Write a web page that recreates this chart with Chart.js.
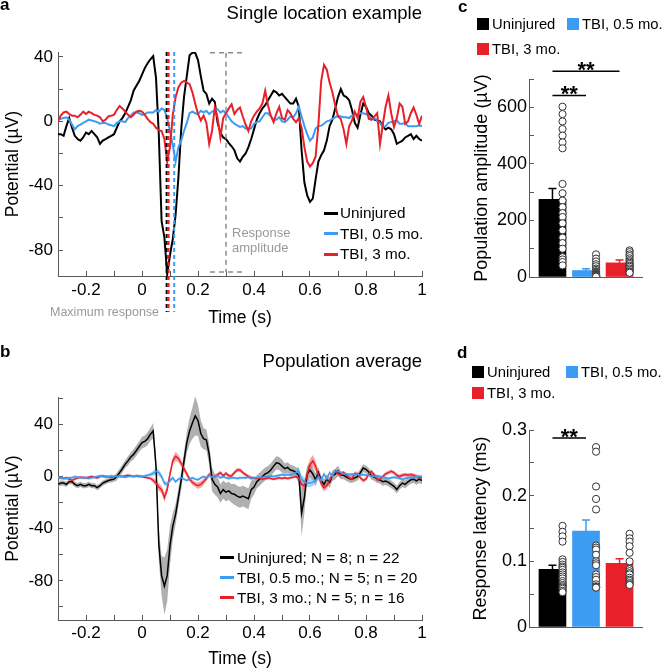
<!DOCTYPE html>
<html>
<head>
<meta charset="utf-8">
<script src="https://cdn.jsdelivr.net/npm/chart.js@4/dist/chart.umd.min.js"></script>
<style>
  body { margin: 0; background: #fff; }
  #fig { position: relative; width: 664px; height: 670px; overflow: hidden;
         font-family: "Liberation Sans", Arial, sans-serif; color: #000; }
  #fig canvas { position: absolute; }
  .lbl { position: absolute; white-space: nowrap; line-height: 1; }
  .bold { font-weight: bold; font-size: 17px; }
  .ttl { font-size: 18.5px; }
  .note { color: #999; }
  .leg { position: absolute; }
  .leg > div, .item { display: flex; align-items: center; white-space: nowrap; }
  .item { position: absolute; height: 20px; font-size: 14.8px; }
  .ln { display: inline-block; width: 14px; height: 3px; margin-right: 2px; }
  .sq { display: inline-block; width: 12px; height: 12px; margin-right: 3px; }
</style>
</head>
<body>
<div id="fig">
  <canvas id="chartA" width="440" height="340" style="left:0;top:0"></canvas>
  <canvas id="chartB" width="440" height="330" style="left:0;top:340px"></canvas>
  <canvas id="chartC" width="224" height="340" style="left:440px;top:0"></canvas>
  <canvas id="chartD" width="224" height="330" style="left:440px;top:340px"></canvas>

  <div class="lbl bold" style="left:0;top:-4.4px">a</div>
  <div class="lbl bold" style="left:0;top:343px">b</div>
  <div class="lbl bold" style="left:458px;top:-1.7px">c</div>
  <div class="lbl bold" style="left:457px;top:344px">d</div>

  <div class="lbl ttl" style="right:242px;top:3.6px">Single location example</div>
  <div class="lbl ttl" style="right:242px;top:351.5px">Population average</div>

  <div class="lbl note" style="left:232px;top:224.5px;font-size:13px;line-height:15px">Response<br>amplitude</div>
  <div class="lbl note" style="left:50px;top:305.5px;font-size:12.5px">Maximum response</div>

  <div class="leg" style="left:324px;top:202.75px;font-size:15.3px">
    <div style="height:20.5px"><i class="ln" style="background:#000"></i>Uninjured</div>
    <div style="height:20.5px"><i class="ln" style="background:#3b9cf2"></i>TBI, 0.5 mo.</div>
    <div style="height:20.5px"><i class="ln" style="background:#e8202a"></i>TBI, 3 mo.</div>
  </div>
  <div class="leg" style="left:220px;top:547.5px;font-size:15.3px">
    <div style="height:20px"><i class="ln" style="background:#000;margin-right:3px"></i>Uninjured; N = 8; n = 22</div>
    <div style="height:20px"><i class="ln" style="background:#3b9cf2;margin-right:3px"></i>TBI, 0.5 mo.; N = 5; n = 20</div>
    <div style="height:20px"><i class="ln" style="background:#e8202a;margin-right:3px"></i>TBI, 3 mo.; N = 5; n = 16</div>
  </div>

  <div class="item" style="left:477px;top:14px"><i class="sq" style="background:#000"></i>Uninjured</div>
  <div class="item" style="left:567px;top:14px"><i class="sq" style="background:#3b9cf2"></i>TBI, 0.5 mo.</div>
  <div class="item" style="left:477px;top:38.5px"><i class="sq" style="background:#e8202a"></i>TBI, 3 mo.</div>

  <div class="item" style="left:472px;top:362px"><i class="sq" style="background:#000"></i>Uninjured</div>
  <div class="item" style="left:566px;top:362px"><i class="sq" style="background:#3b9cf2"></i>TBI, 0.5 mo.</div>
  <div class="item" style="left:472px;top:383px"><i class="sq" style="background:#e8202a"></i>TBI, 3 mo.</div>
</div>

<script>
// time grid, -0.3 s to 1 s every 10 ms
var timeGrid = [];
for (var i = 0; i <= 130; i++) timeGrid.push((i - 30) / 100);

// panel a: single location traces (µV)
var blackA = [
  -8, -8, -9, -3, 2, -4, -9, -11, -12, -10,
  -7, -8, -6, -8, -10, -14, -12, -11, -10, -9,
  -8, -4, 0, 2, 5, 9, 13, 19, 22, 25,
  29, 33, 36, 38.5, 40.5, 27, -8, -62, -72, -95,
  -83, -73, -58, -35, -5, 15, 28, 41, 42.6, 42.5,
  38, 28, 19, 17, 11, 14, 12, -1, -7, -10,
  -11, -13.5, -15.5, -18, -23, -25, -22, -20, -16, -11,
  -5, 1, 5, 8, 10, 13, 16, 19, 18, 16,
  17, 15, 13, 11, 11, 14, 9, -18, -38, -46,
  -50, -48, -36, -25, -21, -18, -12, -3, 1, 8,
  15, 20, 16, 15, 13, 7, -1, -4, 4, 11,
  9, 5, 3.5, 1, 0.5, 0, -3, -5, -4, -5,
  -8, -14, -13, -12, -10, -9, -8, -11, -9, -11,
  -12
];
var blueA = [
  1, 1.5, 2, 2.5, 1, -2, -5, -3, -2, -1,
  0, 1, 0.5, 0, -0.5, -1.5, -1, -1, -2, -2.5,
  -3, -1, 0, 0, -0.5, 2, 3.5, 5.5, 5.5, 5,
  4, 4.5, 5.5, 5.5, 5.5, 7, 6, 8, 7, 2,
  -6, -15, -25, -16, -12, -6, -1, 5, 6, 5,
  4.5, 6.5, 5.5, 6.5, 4.5, 6, 6.5, 7.5, 5.5, 6.5,
  5, 2.5, 0, -1.5, -2.5, -3.5, -3, -4.5, -4.5, -4.5,
  -1.5, -0.5, 0, 2.5, 5, 5, 3, 1, 1, 2.5,
  0, -0.5, 1, 3, 2.5, 5, 9, 3, -3, -8,
  -12, -10, -4.5, -3, -2.7, -1.5, 0, 0.4, 1.5, 2.5,
  3.5, 3, 2.5, 2.5, 2, 3.5, 4.5, 4, 5, 5,
  4.5, 3.5, 1, 2, 0.5, -1, -3.5, -3, -1, -0.5,
  0, 0.5, -1.5, -1.5, -1, -3, -3, -3, -3, -2.5,
  -3
];
var redA = [
  0, 3.5, 5.5, 6, 4.5, 3.5, 3.5, 2.5, 4, 6,
  4.5, 6, 5, 4, 3.5, 2.5, 0, 1, 3, 3.5,
  4, 7, 9.5, 8, 6, 4, 2.5, 4, 6, 6.5,
  6, 4, 1.5, -0.5, -1.5, -4, -5.5, -6, -11, -25,
  -16, 4, 15, 21, 24, 25, 24, 23, 18, 11,
  4.5, 0.5, 3.5, -1, -14, -6, 8.5, 2, -10, 2,
  5, 8, 10.5, 4.5, 7, 8.5, 3, -2, -6, 0,
  3.5, 6, 8, 11, 19, 10, 3.5, -0.5, 5, 9,
  2, 1, 7, 5, 1.5, -0.5, 2, -4, -16, -25,
  -28, -26, -22, -2, 25, 35, 32, 24, 18, 10,
  3, 1.4, -5, -14, -3, 0.5, 6, 2, 12, 15,
  9, 1.5, 1, 3, 5, -14, -2, 9, 16, 5,
  -3.5, 2, 11, 9, -1.5, 0, 5, 8.5, 4, -1.5,
  3.5
];
// times of maximum response (black, red, blue) and response amplitude box
var maxRespT = [0.088, 0.095, 0.115];
var ampBox = { t0: 0.243, tMid: 0.3, t1: 0.365, top: 42.6, bottom: -93.5 };

// panel b: population averages and SEM (µV)
var blackB = [
  -6, -5, -5, -6, -4, -4, -6, -7, -6, -7,
  -7, -6, -7, -7, -8.5, -7, -5, -4, -3, -2.5,
  -2, 0, 3, 6, 9.5, 12, 15, 17, 20, 23,
  26, 27, 29, 32.5, 35, 8, -52, -76, -84, -76,
  -53, -38, -29, -16, -3, 12, 26, 35, 41, 46.5,
  43, 33, 29, 28, 17, -2, -6, -8, -13, -10,
  -12, -11, -13, -13.6, -15, -16, -15, -16, -17, -10,
  -8, -4, -2, 0, 2, 3, 5, 8, 10.5, 10,
  8, 6, 7, 5, 4.5, 3, 1, -28, -16, 2,
  5, 2, -2.5, 3, -3, -6, -2, -4.5, 0.5, 1.8,
  4.4, 1, 1, -0.5, -1.5, -2, -1, 0, 3, 6.5,
  5.5, 3.5, 0.5, -0.5, -2, -2.6, -4, -3.5, -4.5, -6,
  -7.5, -10, -7, -5, -6, -4, -2.5, -2, -3.3, -2,
  -3
];
var semBlackB = [
  2, 2, 2, 2, 2, 2, 2, 2, 2, 2,
  2, 2, 2, 2, 2, 2, 2, 2, 2, 2,
  2, 3, 3, 3, 3, 3.5, 3.5, 4, 4, 4,
  4.5, 4.5, 5, 5, 6, 6, 12, 15, 22, 20,
  15, 10, 8, 7, 7, 7, 8, 10, 12, 15,
  12, 10, 8, 8, 8, 9, 8, 8, 7, 7,
  7, 7, 7, 8, 8, 8, 8, 8, 8, 7,
  6, 5, 5, 5, 5, 5, 5, 5, 5, 5,
  5, 4, 4, 4, 4, 4, 6, 18, 12, 6,
  6, 5, 5, 4, 4, 4, 4, 4, 4, 4,
  4, 3, 3, 3, 3, 3, 3, 3, 3, 3,
  3, 3, 3, 3, 3, 3, 3, 3, 3, 3,
  3, 3, 3, 3, 3, 3, 3, 3, 3, 3,
  3
];
var blueB = [
  -1, -1, -1.5, -1.5, -1, -1, 0, -0.5, -1, -0.5,
  -1, -1.5, -1, -0.5, 0, 0.5, 0, -0.5, 0, 0.5,
  0, 0, 0.5, 0, -0.5, 0, 0.5, 0, 0.5, 0.5,
  0, 0.5, 1, 1.5, 2.5, 4, 3, 0, -5, -6,
  -3, -1, -4, -2, -1, -2, -3, -2, -1, -2,
  -2.5, -1, 0, -1, 1, -0.5, 0.5, 1, -1, 0,
  -1, -1.5, -1, -1, -1.5, -1, -1, -1, -0.5, -1.5,
  -1, -1, -0.5, -0.5, 0, 0, 0.5, 0, 0.5, 1,
  1.5, 1, 1.5, 1, 2, 3, 4, -2, -4, -5,
  -5, -4.5, -3, 0, -3, 2, -2, 3, 0, 5,
  4, 3, 2, 2, 1.5, 2, 1.5, 2, 1, 1.5,
  1, 1, 0.5, 0, 0.5, 0, -0.5, -1, -1.5, -1,
  -0.5, -1, -1.5, -2, -1.5, -1, -0.5, -1, 0, 0,
  0
];
var semBlueB = [
  1, 1, 1, 1, 1, 1, 1, 1, 1, 1,
  1, 1, 1, 1, 1, 1, 1, 1, 1, 1,
  1, 1, 1, 1, 1, 1, 1, 1, 1, 1,
  1, 1, 1, 1.5, 2, 2.5, 2.5, 2, 2, 2,
  1.5, 1.5, 1, 1, 1, 1, 1, 1, 1, 1,
  1, 1, 1, 1, 1, 1, 1, 1, 1, 1,
  1, 1, 1, 1, 1, 1, 1, 1, 1, 1,
  1, 1, 1, 1, 1, 1, 1, 1, 1, 1,
  1, 1, 1, 1, 1.5, 2, 3, 3, 3, 3,
  3, 3, 2.5, 2, 1.5, 1, 1, 1, 1, 1,
  1, 1, 1, 1, 1, 1, 1, 1, 1, 1,
  1, 1, 1, 1, 1, 1, 1, 1, 1, 1,
  1, 1, 1, 1, 1, 1, 1, 1, 1, 1,
  1
];
var redB = [
  -1, -1, -1.5, -1, -2, -3, -2, -1, -0.5, -1,
  -1, -0.5, 0, -0.5, -1, 0, 0.5, 0, 0, -0.5,
  0, 0.5, 0, 0, 0.5, 1, 0.5, 0, 0.5, 0,
  0, -0.5, -1, -1.5, -3, -5, -8, -10, -16, -10,
  2, 12, 15.5, 14, 10, 6, 2, -2, -4.5, -6,
  -7, -6, -4, -1.5, 1.5, -0.5, 0, 1.5, 3, 0.5,
  2.5, 0.5, 0.5, 3, 5, 5, 3, 1.5, 0, -1,
  -1, -1.5, -1, -2, -1.5, -1, -1.5, -2, -1.5, -1,
  -1.5, -1, -1.5, -1, -0.5, 0, -1, -6, -7, 2,
  9, 12, 8, 1, -5, -8.5, -7, -3, 1, 4,
  2, 1, 3, 1, -1, -2, 2.5, 2, -1, -3,
  -2, 2, 4, 1, -2.5, -2, 0, 2, 3, 4,
  3, 1, 0, 1, 1.5, 1, 1.5, 1, 0, -0.5,
  -1
];
var semRedB = [
  1, 1, 1, 1, 1, 1, 1, 1, 1, 1,
  1, 1, 1, 1, 1, 1, 1, 1, 1, 1,
  1, 1, 1, 1, 1, 1, 1, 1, 1, 1,
  1, 1, 1, 1, 2, 2.5, 3, 3, 3.5, 3,
  3, 3, 3.5, 3, 2.5, 2.5, 2, 2, 2, 2,
  2.5, 2.5, 2.5, 2, 2, 1.5, 1.5, 1.5, 1.5, 1.5,
  1.5, 1.5, 1.5, 1.5, 1.5, 1.5, 1.5, 1.5, 1.5, 1.5,
  1, 1, 1, 1, 1, 1, 1, 1, 1, 1,
  1, 1, 1, 1, 1, 1, 2, 3, 4, 4,
  4.5, 4.5, 4, 3.5, 3, 3, 2.5, 2, 2, 1.5,
  1.5, 1.5, 1.5, 1.5, 1.5, 1.5, 1.5, 1.5, 1.5, 1.5,
  1.5, 1.5, 1.5, 1.5, 1.5, 1.5, 1.5, 1.5, 1.5, 1.5,
  1.5, 1.5, 1.5, 1.5, 1.5, 1.5, 1.5, 1.5, 1.5, 1.5,
  1.5
];

// panels c and d: group means, SEM and individual sites
var groups = ['Uninjured', 'TBI, 0.5 mo.', 'TBI, 3 mo.'];
var groupPos = [1, 2, 3];
var ampMean = [275, 23, 50];
var ampSem = [38, 6, 10];
var ampUninj = [602, 576, 550, 523, 500, 476, 455, 329, 296, 270, 247, 226, 212, 190, 165, 139, 120, 100, 70, 62, 53, 41];
var ampTbi05 = [80, 65, 55, 45, 38, 30, 25, 20, 18, 15, 12, 10, 8, 6, 5, 4, 3, 2, 2, 1];
var ampTbi3 = [94, 88, 80, 74, 66, 60, 55, 50, 46, 40, 36, 30, 25, 20, 18, 15];
var ampSig = [{ a: 0, b: 1, y: 642 }, { a: 0, b: 2, y: 727 }];

var latMean = [0.088, 0.146, 0.097];
var latSem = [0.006, 0.017, 0.007];
var latUninj = [0.154, 0.145, 0.138, 0.130, 0.103, 0.099, 0.095, 0.092, 0.090, 0.087, 0.083, 0.080, 0.077, 0.074, 0.070, 0.067, 0.064, 0.062, 0.060, 0.058, 0.055, 0.053];
var latTbi05 = [0.274, 0.267, 0.214, 0.195, 0.179, 0.124, 0.121, 0.118, 0.110, 0.100, 0.097, 0.094, 0.080, 0.076, 0.072, 0.065, 0.062, 0.061, 0.060, 0.060];
var latTbi3 = [0.142, 0.135, 0.130, 0.123, 0.113, 0.100, 0.088, 0.085, 0.082, 0.080, 0.075, 0.072, 0.070, 0.067, 0.065, 0.064];
var latSig = [{ a: 0, b: 1, y: 0.288 }];

// tick positions and labels
var xTickVals = [-0.2, -0.1, 0, 0.1, 0.2, 0.3, 0.4, 0.5, 0.6, 0.7, 0.8, 0.9, 1];
var xTickText = ['-0.2', '', '0', '', '0.2', '', '0.4', '', '0.6', '', '0.8', '', '1'];
var yTickValsA = [-80, -60, -40, -20, 0, 20, 40];
var yTickTextA = ['-80', '', '-40', '', '0', '', '40'];
var yTickValsB = [-100, -80, -60, -40, -20, 0, 20, 40, 60];
var yTickTextB = ['', '-80', '', '-40', '', '0', '', '40', ''];
var yTickValsC = [0, 100, 200, 300, 400, 500, 600, 700];
var yTickTextC = ['0', '', '200', '', '400', '', '600', ''];
var yTickValsD = [0, 0.05, 0.1, 0.15, 0.2, 0.25, 0.3];
var yTickTextD = ['0', '', '0.1', '', '0.2', '', '0.3'];

var colors = ['#000000', '#3b9cf2', '#e8202a'];
var bandColors = ['rgba(150,150,150,0.75)', 'rgba(100,175,245,0.55)', 'rgba(240,90,90,0.55)'];
var FONT = '"Liberation Sans", Arial, sans-serif';
var axisColor = '#5a5a5a';

function pts(arr) {
    return arr.map(function (v, i) { return { x: timeGrid[i], y: v }; });
}

function lineChart(id, datasets, o) {
    return new Chart(document.getElementById(id), {
        type: 'line',
        data: { datasets: datasets },
        options: {
            responsive: false, animation: false, events: [],
            layout: { padding: { top: o.top, right: 18, bottom: 0, left: 0 } },
            plugins: { legend: { display: false }, tooltip: { enabled: false } },
            elements: { point: { radius: 0 }, line: { tension: 0 } },
            scales: {
                x: {
                    type: 'linear', min: -0.3, max: 1,
                    afterBuildTicks: function (s) { s.ticks = xTickVals.map(function (v) { return { value: v }; }); },
                    afterFit: function (s) { s.height = o.xHeight; },
                    ticks: { autoSkip: false, maxRotation: 0, padding: o.xPad, color: '#000',
                             font: { family: FONT, size: 17 },
                             callback: function (v, i) { return xTickText[i]; } },
                    grid: { drawOnChartArea: false, drawTicks: true, tickLength: -5, color: axisColor },
                    border: { display: true, color: axisColor, width: 1 },
                    title: { display: true, text: 'Time (s)', color: '#000',
                             font: { family: FONT, size: 17.5 }, padding: { top: 0, bottom: o.titlePad } }
                },
                y: {
                    type: 'linear', min: o.yMin, max: o.yMax,
                    afterBuildTicks: function (s) { s.ticks = o.yVals.map(function (v) { return { value: v }; }); },
                    afterFit: function (s) { s.width = 58; },
                    ticks: { autoSkip: false, padding: 10, color: '#000',
                             font: { family: FONT, size: 17 },
                             callback: function (v, i) { return o.yText[i]; } },
                    grid: { drawOnChartArea: false, drawTicks: true, tickLength: -5, color: axisColor },
                    border: { display: true, color: axisColor, width: 1 },
                    title: { display: true, text: 'Potential (µV)', color: '#000',
                             font: { family: FONT, size: 17.5 }, padding: { top: 2.5, bottom: 0 } }
                }
            }
        },
        plugins: o.plugins || []
    });
}

// dashed markers for panel a
var markersA = {
    id: 'markersA',
    afterDatasetsDraw: function (chart) {
        var ctx = chart.ctx, x = chart.scales.x, y = chart.scales.y, area = chart.chartArea;
        ctx.save();
        ctx.strokeStyle = '#8c8c8c';
        ctx.lineWidth = 1.5;
        ctx.setLineDash([5, 4]);
        var yt = y.getPixelForValue(ampBox.top), yb = y.getPixelForValue(ampBox.bottom);
        var x0 = x.getPixelForValue(ampBox.t0), xm = x.getPixelForValue(ampBox.tMid), x1 = x.getPixelForValue(ampBox.t1);
        ctx.beginPath();
        ctx.moveTo(x0, yt); ctx.lineTo(x1, yt);
        ctx.moveTo(xm, yt); ctx.lineTo(xm, yb);
        ctx.moveTo(x0, yb); ctx.lineTo(x1, yb);
        ctx.stroke();
        ctx.lineWidth = 2;
        ctx.setLineDash([4, 3]);
        var order = [0, 2, 1];
        maxRespT.forEach(function (t, i) {
            var px = x.getPixelForValue(t);
            ctx.strokeStyle = colors[order[i]];
            ctx.beginPath();
            ctx.moveTo(px, area.top);
            ctx.lineTo(px, area.bottom + 36);
            ctx.stroke();
        });
        ctx.restore();
    }
};

lineChart('chartA', [
    { data: pts(blackA), borderColor: colors[0], borderWidth: 2, order: 3 },
    { data: pts(blueA), borderColor: colors[1], borderWidth: 2, order: 2 },
    { data: pts(redA), borderColor: colors[2], borderWidth: 2, order: 1 }
], { top: 52, xHeight: 64, xPad: 9, titlePad: 11.5, yMin: -96, yMax: 43,
     yVals: yTickValsA, yText: yTickTextA, plugins: [markersA] });

function bandSets(mean, sem, color, order) {
    return [
        { data: pts(mean.map(function (v, i) { return v + sem[i]; })), borderColor: 'rgba(0,0,0,0)', borderWidth: 0, fill: false, order: order },
        { data: pts(mean.map(function (v, i) { return v - sem[i]; })), borderColor: 'rgba(0,0,0,0)', borderWidth: 0, fill: '-1', backgroundColor: color, order: order }
    ];
}

lineChart('chartB', []
    .concat(bandSets(blackB, semBlackB, bandColors[0], 10))
    .concat(bandSets(redB, semRedB, bandColors[2], 9))
    .concat(bandSets(blueB, semBlueB, bandColors[1], 8))
    .concat([
        { data: pts(blackB), borderColor: colors[0], borderWidth: 1.5, order: 3 },
        { data: pts(redB), borderColor: colors[2], borderWidth: 1.5, order: 2 },
        { data: pts(blueB), borderColor: colors[1], borderWidth: 1.5, order: 1 }
    ]),
    { top: 57, xHeight: 50, xPad: 8, titlePad: 0.5, yMin: -110, yMax: 61,
      yVals: yTickValsB, yText: yTickTextB });

// bar panels
var dotOffset = 0.3;

function barExtras(sem, means, sig) {
    return {
        id: 'barExtras',
        afterDatasetsDraw: function (chart) {
            var ctx = chart.ctx, x = chart.scales.x, y = chart.scales.y;
            ctx.save();
            ctx.lineWidth = 1.5;
            groupPos.forEach(function (g, i) {
                var px = x.getPixelForValue(g);
                var y0 = y.getPixelForValue(means[i]), y1 = y.getPixelForValue(means[i] + sem[i]);
                ctx.strokeStyle = colors[i];
                ctx.beginPath();
                ctx.moveTo(px, y0); ctx.lineTo(px, y1);
                ctx.moveTo(px - 4, y1); ctx.lineTo(px + 4, y1);
                ctx.stroke();
            });
            ctx.strokeStyle = '#000';
            ctx.fillStyle = '#000';
            ctx.font = 'bold 22px ' + FONT;
            ctx.textAlign = 'center';
            ctx.textBaseline = 'alphabetic';
            sig.forEach(function (s) {
                var xa = x.getPixelForValue(groupPos[s.a]), xb = x.getPixelForValue(groupPos[s.b]);
                var py = y.getPixelForValue(s.y);
                ctx.beginPath();
                ctx.moveTo(xa, py); ctx.lineTo(xb, py);
                ctx.stroke();
                ctx.fillText('**', (xa + xb) / 2, py + 6);
            });
            ctx.restore();
        }
    };
}

function dotSet(vals, g) {
    return {
        type: 'scatter',
        data: vals.map(function (v) { return { x: groupPos[g] + dotOffset, y: v }; }),
        pointRadius: 3.6, pointBorderWidth: 1, pointBorderColor: '#333', pointBackgroundColor: '#fff',
        order: 0
    };
}

function barChart(id, means, sem, dots, sig, o) {
    return new Chart(document.getElementById(id), {
        type: 'bar',
        data: {
            datasets: [{
                data: means.map(function (v, i) { return { x: groupPos[i], y: v }; }),
                backgroundColor: colors, barThickness: 27, order: 1
            }].concat(dots.map(function (d, g) { return dotSet(d, g); }))
        },
        options: {
            responsive: false, animation: false, events: [],
            layout: { padding: { top: o.top, right: 22, bottom: 0, left: 0 } },
            plugins: { legend: { display: false }, tooltip: { enabled: false } },
            scales: {
                x: {
                    type: 'linear', min: 0.3, max: 3.67, offset: false,
                    afterFit: function (s) { s.height = o.xHeight; },
                    ticks: { display: false },
                    grid: { display: false, offset: false },
                    border: { display: true, color: axisColor, width: 1 }
                },
                y: {
                    type: 'linear', min: 0, max: o.yMax,
                    afterBuildTicks: function (s) { s.ticks = o.yVals.map(function (v) { return { value: v }; }); },
                    afterFit: function (s) { s.width = 89; },
                    ticks: { autoSkip: false, padding: 7, color: '#000',
                             font: { family: FONT, size: 18 },
                             callback: function (v, i) { return o.yText[i]; } },
                    grid: { drawOnChartArea: false, drawTicks: true, tickLength: -5, color: axisColor },
                    border: { display: true, color: axisColor, width: 1 },
                    title: { display: true, text: o.title, color: '#000',
                             font: { family: FONT, size: 18 }, padding: { top: o.titlePad, bottom: 0 } }
                }
            }
        },
        plugins: [barExtras(sem, means, sig)]
    });
}

barChart('chartC', ampMean, ampSem, [ampUninj, ampTbi05, ampTbi3], ampSig,
    { top: 79, xHeight: 63, yMax: 700, yVals: yTickValsC, yText: yTickTextC,
      title: 'Population amplitude (µV)', titlePad: 31 });
barChart('chartD', latMean, latSem, [latUninj, latTbi05, latTbi3], latSig,
    { top: 90, xHeight: 43, yMax: 0.3, yVals: yTickValsD, yText: yTickTextD,
      title: 'Response latency (ms)', titlePad: 30 });
</script>
</body>
</html>
